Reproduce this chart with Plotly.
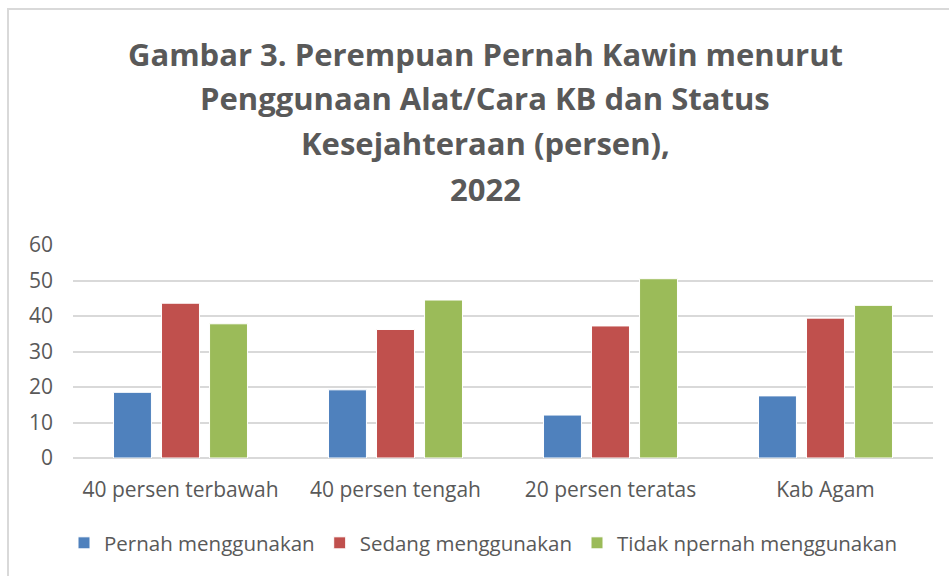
import plotly.graph_objects as go

categories = ["40 persen terbawah", "40 persen tengah", "20 persen teratas", "Kab Agam"]
series_names = ["Pernah menggunakan", "Sedang menggunakan", "Tidak npernah menggunakan"]
pernah = [18.5, 19.2, 12.1, 17.5]
sedang = [43.6, 36.2, 37.2, 39.4]
tidak = [37.8, 44.5, 50.5, 43.0]
y_ticks = [0, 10, 20, 30, 40, 50, 60]
title_lines = ["Gambar 3. Perempuan Pernah Kawin menurut",
               "Penggunaan Alat/Cara KB dan Status",
               "Kesejahteraan (persen),",
               "2022"]
colors = ["#4F81BD", "#C0504D", "#9BBB59"]

FONT = "Open Sans"
GRAY = "#595959"

fig = go.Figure()
for name, vals, col in zip(series_names, [pernah, sedang, tidak], colors):
    fig.add_trace(go.Bar(
        x=categories, y=vals, name=name,
        marker=dict(color=col, line=dict(color="white", width=1)),
    ))

W, H = 949, 576
L, R, T, B = 73, 16, 245, 118

fig.update_layout(
    width=W, height=H,
    margin=dict(l=L, r=R, t=T, b=B, pad=0, autoexpand=False),
    paper_bgcolor="white", plot_bgcolor="white",
    barmode="group", bargap=0.33, bargroupgap=0.21,
    font=dict(family=FONT, color=GRAY, size=21),
    showlegend=True,
    legend=dict(
        orientation="h", x=483 / W, xanchor="center", xref="container",
        y=1 - 543 / H, yanchor="middle", yref="container",
        font=dict(family=FONT, size=20.5, color=GRAY),
        itemwidth=30, traceorder="normal",
    ),
    yaxis=dict(
        range=[0, 60], tickvals=y_ticks, showgrid=True, gridcolor="#D9D9D9", gridwidth=2,
        zeroline=True, zerolinecolor="#D9D9D9", zerolinewidth=2, showline=False,
        ticks="", tickfont=dict(size=21, color=GRAY), ticklabelstandoff=19,
    ),
    xaxis=dict(
        showline=False, ticks="", tickfont=dict(size=21, color=GRAY), ticklabelstandoff=17,
    ),
)

title_y = [54, 98, 143, 189]
for txt, yy in zip(title_lines, title_y):
    fig.add_annotation(
        text="<b>" + txt + "</b>", xref="paper", yref="paper",
        x=(485 - L) / (W - L - R), y=1 + (T - yy) / (H - T - B),
        xanchor="center", yanchor="middle", showarrow=False,
        font=dict(family=FONT, size=31, color=GRAY),
    )

# chart outer border (light gray)
fig.add_shape(type="rect", xref="paper", yref="paper",
              x0=(8 - L) / (W - L - R), x1=(960 - L) / (W - L - R),
              y0=-(590 - (H - B)) / (H - T - B), y1=1 + (T - 9) / (H - T - B),
              line=dict(color="#D9D9D9", width=2), layer="below")

fig.write_html("out.html", config={"displayModeBar": False},
               post_script="document.body.style.margin='0';document.body.style.overflow='hidden';")
